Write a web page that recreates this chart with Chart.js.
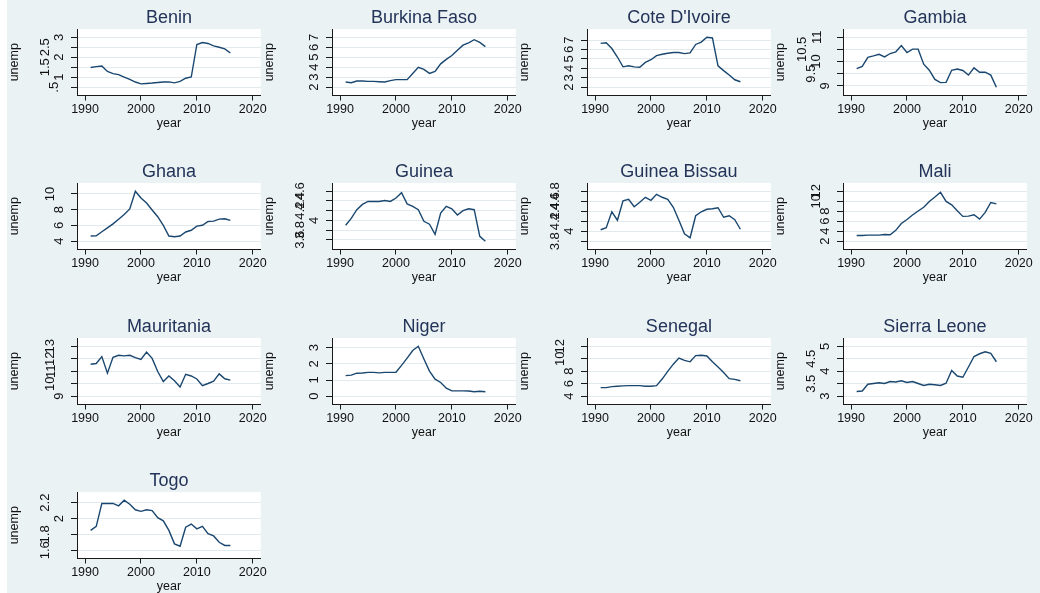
<!DOCTYPE html>
<html>
<head>
<meta charset="utf-8">
<script src="https://cdn.jsdelivr.net/npm/chart.js@4.4.1/dist/chart.umd.min.js"></script>
<style>
  html, body { margin: 0; padding: 0; background: #ffffff; overflow: hidden; width: 1040px; height: 593px; }
  #graph { position: absolute; left: 7px; top: 0; width: 1033px; height: 593px; background: #eaf2f3; }
  canvas { position: absolute; }
</style>
</head>
<body>
<div id="graph"></div>
<script>
// Unemployment by country, 1991-2016
const years = [1991, 1992, 1993, 1994, 1995, 1996, 1997, 1998, 1999, 2000, 2001, 2002, 2003,
               2004, 2005, 2006, 2007, 2008, 2009, 2010, 2011, 2012, 2013, 2014, 2015, 2016];

const countries = ["Benin", "Burkina Faso", "Cote D'Ivoire", "Gambia",
                   "Ghana", "Guinea", "Guinea Bissau", "Mali",
                   "Mauritania", "Niger", "Senegal", "Sierra Leone",
                   "Togo"];

const benin        = [1.49, 1.53, 1.56, 1.29, 1.18, 1.13, 1.01, 0.89, 0.76, 0.67, 0.69, 0.71, 0.74,
                      0.76, 0.77, 0.72, 0.79, 0.95, 1.01, 2.64, 2.74, 2.69, 2.57, 2.50, 2.42, 2.21];
const burkinaFaso  = [2.52, 2.45, 2.62, 2.62, 2.59, 2.59, 2.55, 2.52, 2.66, 2.76, 2.76, 2.76, 3.38,
                      4.00, 3.79, 3.38, 3.59, 4.34, 4.79, 5.17, 5.69, 6.21, 6.45, 6.76, 6.48, 6.07];
const coteDIvoire  = [6.64, 6.71, 6.10, 5.20, 4.16, 4.27, 4.16, 4.12, 4.63, 4.91, 5.35, 5.49, 5.60,
                      5.67, 5.67, 5.56, 5.63, 6.53, 6.78, 7.29, 7.22, 4.27, 3.76, 3.29, 2.79, 2.58];
const gambia       = [9.71, 9.80, 10.17, 10.23, 10.30, 10.19, 10.33, 10.40, 10.66, 10.37, 10.51, 10.51, 9.89,
                      9.64, 9.26, 9.13, 9.14, 9.64, 9.69, 9.63, 9.44, 9.74, 9.56, 9.56, 9.44, 8.94];
const ghana        = [4.66, 4.70, 5.20, 5.70, 6.20, 6.80, 7.40, 8.10, 10.34, 9.48, 8.84, 7.97, 7.11,
                      6.00, 4.66, 4.57, 4.66, 5.17, 5.39, 5.91, 6.03, 6.51, 6.55, 6.81, 6.85, 6.64];
const guinea       = [3.90, 4.04, 4.22, 4.33, 4.39, 4.39, 4.39, 4.41, 4.39, 4.46, 4.57, 4.34, 4.29,
                      4.22, 3.98, 3.92, 3.71, 4.15, 4.29, 4.24, 4.11, 4.20, 4.24, 4.22, 3.67, 3.57];
const guineaBissau = [4.03, 4.07, 4.39, 4.22, 4.61, 4.64, 4.49, 4.58, 4.68, 4.62, 4.74, 4.68, 4.64,
                      4.48, 4.22, 3.95, 3.87, 4.31, 4.39, 4.44, 4.45, 4.47, 4.28, 4.31, 4.23, 4.04];
const mali         = [3.16, 3.16, 3.22, 3.22, 3.22, 3.36, 3.29, 4.18, 5.54, 6.35, 7.24, 8.05, 8.80,
                      9.96, 10.84, 11.80, 9.96, 9.28, 8.12, 6.97, 7.03, 7.31, 6.42, 7.78, 9.76, 9.48];
const mauritania   = [11.56, 11.62, 12.17, 10.85, 12.12, 12.28, 12.23, 12.28, 12.09, 11.95, 12.53, 12.03, 10.98,
                      10.18, 10.62, 10.24, 9.74, 10.76, 10.62, 10.38, 9.85, 10.02, 10.21, 10.79, 10.40, 10.29];
const niger        = [1.27, 1.30, 1.42, 1.43, 1.47, 1.47, 1.44, 1.47, 1.47, 1.48, 1.90, 2.35, 2.82,
                      3.08, 2.30, 1.55, 1.05, 0.85, 0.50, 0.33, 0.33, 0.33, 0.32, 0.28, 0.31, 0.28];
const senegal      = [5.37, 5.37, 5.54, 5.60, 5.65, 5.70, 5.70, 5.70, 5.60, 5.60, 5.70, 6.75, 7.97,
                      9.13, 10.12, 9.73, 9.51, 10.50, 10.56, 10.45, 9.51, 8.69, 7.80, 6.81, 6.70, 6.48];
const sierraLeone  = [3.19, 3.21, 3.48, 3.51, 3.54, 3.51, 3.59, 3.57, 3.62, 3.55, 3.59, 3.51, 3.43,
                      3.48, 3.46, 3.43, 3.52, 4.03, 3.81, 3.76, 4.17, 4.59, 4.70, 4.78, 4.72, 4.38];
const togo         = [1.85, 1.90, 2.19, 2.19, 2.19, 2.16, 2.23, 2.18, 2.11, 2.09, 2.11, 2.10, 2.01,
                      1.97, 1.85, 1.68, 1.65, 1.89, 1.93, 1.87, 1.90, 1.81, 1.78, 1.70, 1.66, 1.66];

// y-axis tick labels per panel
const beninTicks        = [0.5, 1, 1.5, 2, 2.5, 3];
const burkinaFasoTicks  = [2, 3, 4, 5, 6, 7];
const coteDIvoireTicks  = [2, 3, 4, 5, 6, 7];
const gambiaTicks       = [9, 9.5, 10, 10.5, 11];
const ghanaTicks        = [4, 6, 8, 10];
const guineaTicks       = [3.6, 3.8, 4, 4.2, 4.4, 4.6];
const guineaBissauTicks = [3.8, 4, 4.2, 4.4, 4.6, 4.8];
const maliTicks         = [2, 4, 6, 8, 10, 12];
const mauritaniaTicks   = [9, 10, 11, 12, 13];
const nigerTicks        = [0, 1, 2, 3];
const senegalTicks      = [4, 6, 8, 10, 12];
const sierraLeoneTicks  = [3, 3.5, 4, 4.5, 5];
const togoTicks         = [1.6, 1.8, 2, 2.2];

const yearTicks = [1990, 2000, 2010, 2020];

const seriesList = [benin, burkinaFaso, coteDIvoire, gambia, ghana, guinea, guineaBissau,
                    mali, mauritania, niger, senegal, sierraLeone, togo];
const tickList = [beninTicks, burkinaFasoTicks, coteDIvoireTicks, gambiaTicks, ghanaTicks, guineaTicks,
                  guineaBissauTicks, maliTicks, mauritaniaTicks, nigerTicks, senegalTicks,
                  sierraLeoneTicks, togoTicks];

// look
const FONT_FAMILY = '"Liberation Sans", Arial, Helvetica, sans-serif';
const LINE_COLOR = '#1a476f';
const TITLE_COLOR = '#243459';
const TEXT_COLOR = '#111111';
const AXIS_COLOR = '#1a1a1a';
const GRID_COLOR = '#e2eaed';

// panel geometry
const CANVAS_W = 262, CANVAS_H = 131;
const COL_STEP = 255.2, ROW_STEP = 154.3, ORIGIN_X = 7;
const Y_AXIS_W = 70, X_AXIS_H = 35.5;
const PLOT_W = 188, PLOT_H = 66.3, EDGE = 8.25;

function fmtNum(v) {
  let s = String(Math.round(v * 1000) / 1000);
  if (s.startsWith('0.')) s = s.slice(1);
  return s;
}

function paddedRange(values, span) {
  const lo = Math.min(...values), hi = Math.max(...values);
  const pad = (hi - lo) * EDGE / (span - 2 * EDGE);
  return [lo - pad, hi + pad];
}

// white plot region
const plotBackground = {
  id: 'plotBackground',
  beforeDraw(chart) {
    const a = chart.chartArea, ctx = chart.ctx;
    ctx.save();
    ctx.fillStyle = '#ffffff';
    ctx.fillRect(a.left, a.top, a.right - a.left, a.bottom - a.top);
    ctx.restore();
  }
};

// vertical y tick labels, wider labels sit further from the axis
const verticalYTicks = {
  id: 'verticalYTicks',
  afterDraw(chart) {
    const s = chart.scales.y, ctx = chart.ctx;
    ctx.save();
    ctx.font = '13px ' + FONT_FAMILY;
    ctx.fillStyle = TEXT_COLOR;
    ctx.textAlign = 'center';
    ctx.textBaseline = 'middle';
    s.ticks.forEach(t => {
      const label = fmtNum(t.value);
      const w = ctx.measureText(label).width;
      const x = chart.chartArea.left - 8 - 1.3 * w;
      const y = s.getPixelForValue(t.value);
      ctx.save();
      ctx.translate(x, y);
      ctx.rotate(-Math.PI / 2);
      ctx.fillText(label, 0, 0);
      ctx.restore();
    });
    ctx.restore();
  }
};

countries.forEach((name, i) => {
  const col = i % 4, row = Math.floor(i / 4);
  const canvas = document.createElement('canvas');
  canvas.width = CANVAS_W;
  canvas.height = CANVAS_H;
  canvas.style.width = CANVAS_W + 'px';
  canvas.style.height = CANVAS_H + 'px';
  canvas.style.left = Math.round(ORIGIN_X + col * COL_STEP) + 'px';
  canvas.style.top = Math.round(row * ROW_STEP) + 'px';
  document.body.appendChild(canvas);

  const values = seriesList[i];
  const ticks = tickList[i];
  const [yMin, yMax] = paddedRange(ticks.concat(values), PLOT_H);
  const [xMin, xMax] = paddedRange(yearTicks.concat(years), PLOT_W);
  const font = { family: FONT_FAMILY, size: 12.5 };

  new Chart(canvas, {
    type: 'line',
    data: {
      datasets: [{
        data: years.map((yr, k) => ({ x: yr, y: values[k] })),
        borderColor: LINE_COLOR,
        borderWidth: 1.4,
        pointRadius: 0,
        tension: 0,
        fill: false
      }]
    },
    options: {
      responsive: false,
      animation: false,
      devicePixelRatio: 1,
      layout: { padding: { left: 0, right: CANVAS_W - Y_AXIS_W - PLOT_W, top: 0, bottom: 0 } },
      plugins: {
        legend: { display: false },
        tooltip: { enabled: false },
        title: {
          display: true,
          text: name,
          fullSize: false,
          color: TITLE_COLOR,
          font: { family: FONT_FAMILY, size: 18, weight: 'normal' },
          padding: { top: 7.4, bottom: 0 }
        }
      },
      scales: {
        x: {
          type: 'linear',
          bounds: 'data',
          min: xMin,
          max: xMax,
          afterBuildTicks: s => { s.ticks = yearTicks.map(v => ({ value: v })); },
          afterFit: s => { s.height = X_AXIS_H; },
          grid: { drawOnChartArea: false, tickLength: 5, tickColor: AXIS_COLOR, tickWidth: 1 },
          border: { color: AXIS_COLOR, width: 1 },
          ticks: { color: TEXT_COLOR, font, padding: 2, maxRotation: 0, autoSkip: false,
                   callback: v => String(v) },
          title: { display: true, text: 'year', color: TEXT_COLOR, font, padding: { top: 0, bottom: 0 } }
        },
        y: {
          type: 'linear',
          bounds: 'data',
          min: yMin,
          max: yMax,
          afterBuildTicks: s => { s.ticks = ticks.map(v => ({ value: v })); },
          afterFit: s => { s.width = Y_AXIS_W; },
          grid: { color: GRID_COLOR, lineWidth: 1, tickLength: 6, tickColor: AXIS_COLOR, tickWidth: 1 },
          border: { color: AXIS_COLOR, width: 1 },
          ticks: { display: false, callback: v => fmtNum(v) },
          title: { display: true, text: 'unemp', color: TEXT_COLOR, font, padding: 0 }
        }
      }
    },
    plugins: [plotBackground, verticalYTicks]
  });
});
</script>
</body>
</html>
